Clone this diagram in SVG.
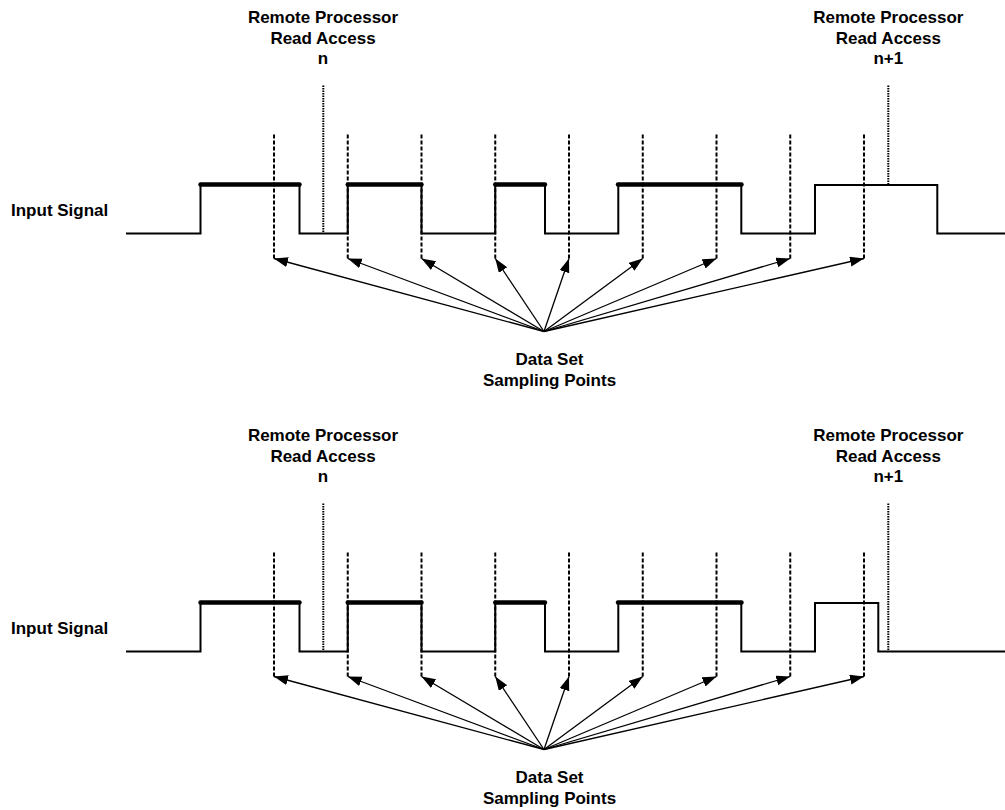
<svg xmlns="http://www.w3.org/2000/svg" width="1005" height="810" viewBox="0 0 1005 810">
<style>
text{font-family:"Liberation Sans",Arial,sans-serif;font-weight:bold;font-size:17px;fill:#000}
.c{text-anchor:middle}
.sig{fill:none;stroke:#000;stroke-width:2}
.bar{fill:none;stroke:#000;stroke-width:4.5;stroke-linecap:round}
.dash{fill:none;stroke:#000;stroke-width:2;stroke-dasharray:4 2}
.dot{fill:none;stroke:#000;stroke-width:2;stroke-dasharray:1.5 1}
.arr{fill:none;stroke:#000;stroke-width:1.3;marker-end:url(#ah)}
</style>
<defs>
<marker id="ah" markerUnits="userSpaceOnUse" markerWidth="16" markerHeight="12" refX="14" refY="5" orient="auto">
<path d="M0,0 L14,5 L0,10 z" fill="#000"/>
</marker>
<g id="dashset">
<line class="dash" x1="274" y1="134.5" x2="274" y2="258.5"/>
<line class="dash" x1="347.75" y1="134.5" x2="347.75" y2="258.5"/>
<line class="dash" x1="421.5" y1="134.5" x2="421.5" y2="258.5"/>
<line class="dash" x1="495.25" y1="134.5" x2="495.25" y2="258.5"/>
<line class="dash" x1="569" y1="134.5" x2="569" y2="258.5"/>
<line class="dash" x1="642.75" y1="134.5" x2="642.75" y2="258.5"/>
<line class="dash" x1="716.5" y1="134.5" x2="716.5" y2="258.5"/>
<line class="dash" x1="790.25" y1="134.5" x2="790.25" y2="258.5"/>
<line class="dash" x1="864" y1="134.5" x2="864" y2="258.5"/>
</g>
<g id="arrowset">
<line class="arr" x1="544" y1="331.5" x2="274" y2="258.5"/>
<line class="arr" x1="544" y1="331.5" x2="347.75" y2="258.5"/>
<line class="arr" x1="544" y1="331.5" x2="421.5" y2="258.5"/>
<line class="arr" x1="544" y1="331.5" x2="495.25" y2="258.5"/>
<line class="arr" x1="544" y1="331.5" x2="569" y2="258.5"/>
<line class="arr" x1="544" y1="331.5" x2="642.75" y2="258.5"/>
<line class="arr" x1="544" y1="331.5" x2="716.5" y2="258.5"/>
<line class="arr" x1="544" y1="331.5" x2="790.25" y2="258.5"/>
<line class="arr" x1="544" y1="331.5" x2="864" y2="258.5"/>
</g>
<g id="bars">
<line class="bar" x1="200.5" y1="184.5" x2="299.5" y2="184.5"/>
<line class="bar" x1="347.75" y1="184.5" x2="421.5" y2="184.5"/>
<line class="bar" x1="495.25" y1="184.5" x2="545" y2="184.5"/>
<line class="bar" x1="618" y1="184.5" x2="741.5" y2="184.5"/>
</g>
</defs>

<!-- Top diagram -->
<g id="top-read-n">
<text class="c" x="323" y="22.5">Remote Processor</text>
<text class="c" x="323" y="43.5">Read Access</text>
<text class="c" x="323" y="64">n</text>
<line class="dot" x1="323.3" y1="85.5" x2="323.3" y2="233.5"/>
</g>
<g id="top-read-n1">
<text class="c" x="888.3" y="22.5">Remote Processor</text>
<text class="c" x="888.3" y="43.5">Read Access</text>
<text class="c" x="888.3" y="64">n+1</text>
<line class="dot" x1="888.3" y1="85.5" x2="888.3" y2="185"/>
</g>
<g id="top-input-label">
<text x="11" y="215.5">Input Signal</text>
</g>
<g id="top-signal">
<use href="#bars"/>
<polyline class="sig" points="126,233.5 200.5,233.5 200.5,185 299.5,185 299.5,233.5 347.75,233.5 347.75,185 421.5,185 421.5,233.5 495.25,233.5 495.25,185 545,185 545,233.5 618.3,233.5 618.3,185 741.3,185 741.3,233.5 815,233.5 815,185 937.3,185 937.3,233.5 1005,233.5"/>
</g>
<g id="top-sampling">
<use href="#dashset"/>
<text class="c" x="549.5" y="364.5">Data Set</text>
<text class="c" x="549.5" y="385.5">Sampling Points</text>
</g>
<g id="top-connectors">
<use href="#arrowset"/>
</g>

<!-- Bottom diagram -->
<g id="bot-read-n">
<text class="c" x="323" y="440.5">Remote Processor</text>
<text class="c" x="323" y="461.5">Read Access</text>
<text class="c" x="323" y="482">n</text>
<line class="dot" x1="323.3" y1="503.5" x2="323.3" y2="651.5"/>
</g>
<g id="bot-read-n1">
<text class="c" x="888.3" y="440.5">Remote Processor</text>
<text class="c" x="888.3" y="461.5">Read Access</text>
<text class="c" x="888.3" y="482">n+1</text>
<line class="dot" x1="888.3" y1="503.5" x2="888.3" y2="651.5"/>
</g>
<g id="bot-input-label">
<text x="11" y="633.5">Input Signal</text>
</g>
<g id="bot-signal">
<use href="#bars" transform="translate(0,418)"/>
<polyline class="sig" points="126,651.5 200.5,651.5 200.5,603 299.5,603 299.5,651.5 347.75,651.5 347.75,603 421.5,603 421.5,651.5 495.25,651.5 495.25,603 545,603 545,651.5 618.3,651.5 618.3,603 741.3,603 741.3,651.5 815,651.5 815,603 878.3,603 878.3,651.5 1005,651.5"/>
</g>
<g id="bot-sampling">
<use href="#dashset" transform="translate(0,418)"/>
<text class="c" x="549.5" y="782.5">Data Set</text>
<text class="c" x="549.5" y="803.5">Sampling Points</text>
</g>
<g id="bot-connectors">
<use href="#arrowset" transform="translate(0,418)"/>
</g>
</svg>
